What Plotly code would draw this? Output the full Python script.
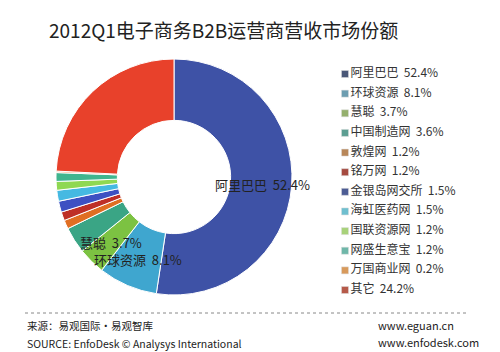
import plotly.graph_objects as go

title = "2012Q1电子商务B2B运营商营收市场份额"
companies = ["阿里巴巴", "环球资源", "慧聪", "中国制造网", "敦煌网", "铭万网",
             "金银岛网交所", "海虹医药网", "国联资源网", "网盛生意宝", "万国商业网", "其它"]
shares = [52.4, 8.1, 3.7, 3.6, 1.2, 1.2, 1.5, 1.5, 1.2, 1.2, 0.2, 24.2]
slice_colors = ["#3E52A6", "#3FA6CF", "#7CC242", "#3AA585", "#E06E22", "#BE2F27",
                "#3D50C2", "#45B9E2", "#8FD852", "#40B58F", "#F28232", "#E8412B"]
legend_colors = ["#4A5878", "#6C9DB0", "#95B06E", "#5C9E92", "#B8875A", "#A54A40",
                 "#4C5C94", "#6FBFCF", "#A8D27A", "#6FB7A9", "#D89A5C", "#B65A4A"]
slice_labels = {"阿里巴巴": (262, 185), "慧聪": (111, 242), "环球资源": (138, 259)}

W, H = 500, 352
FONT = "Noto Sans CJK SC"
SP = "\u00a0\u00a0"

fig = go.Figure()

fig.add_trace(go.Pie(
    labels=companies, values=shares, sort=False, direction="clockwise",
    hole=0.48, marker=dict(colors=slice_colors, line=dict(color="white", width=1)),
    textinfo="none", hoverinfo="label+percent", showlegend=False,
    domain=dict(x=[(174 - 118) / W, (174 + 118) / W], y=[(H - 177 - 118) / H, (H - 177 + 118) / H]),
))

# legend drawn as a marker column on a hidden axis
legend_text = [f"{c}{SP}{v:.1f}%" for c, v in zip(companies, shares)]
fig.add_trace(go.Scatter(
    x=[45] * len(companies), y=list(range(len(companies))),
    mode="markers+text", text=legend_text, textposition="middle right",
    textfont=dict(family=FONT, size=12, color="#333333"),
    marker=dict(symbol="square", size=7, color=legend_colors, line=dict(color="#dddddd", width=0.5)),
    showlegend=False, hoverinfo="text", cliponaxis=False,
))

for name, (px, py) in slice_labels.items():
    v = shares[companies.index(name)]
    fig.add_annotation(x=px / W, y=1 - py / H, xref="paper", yref="paper",
                       xanchor="center", yanchor="middle",
                       text=f"{name}{SP}{v:.1f}%", showarrow=False,
                       font=dict(family=FONT, size=13, color="#222222"))

fig.add_annotation(x=47 / W, y=1 - 30 / H, xref="paper", yref="paper", xanchor="left", yanchor="middle",
                   text=title, showarrow=False, font=dict(family=FONT, size=19, color="#222222"))

fig.add_shape(type="line", xref="paper", yref="paper", x0=25 / W, x1=467 / W,
              y0=1 - 313 / H, y1=1 - 313 / H, line=dict(color="#888888", width=1, dash="dot"))

footer = [("来源：易观国际·易观智库", 25, 325, 10.5), ("SOURCE: EnfoDesk © Analysys International", 25, 343, 10.5),
          ("www.eguan.cn", 376, 325, 11), ("www.enfodesk.com", 376, 342, 11)]
for txt, px, py, fs in footer:
    fig.add_annotation(x=px / W, y=1 - py / H, xref="paper", yref="paper", xanchor="left", yanchor="middle",
                       text=txt, showarrow=False, font=dict(family=FONT, size=fs, color="#222222"))

fig.update_layout(
    width=W, height=H, margin=dict(l=0, r=0, t=0, b=0),
    paper_bgcolor="white", plot_bgcolor="rgba(0,0,0,0)",
    xaxis=dict(domain=[0.6, 1.0], range=[0, 200], visible=False, fixedrange=True),
    yaxis=dict(domain=[(H - 290) / H, (H - 74) / H], range=[11, 0], visible=False, fixedrange=True),
)

fig.write_html("out.html")
